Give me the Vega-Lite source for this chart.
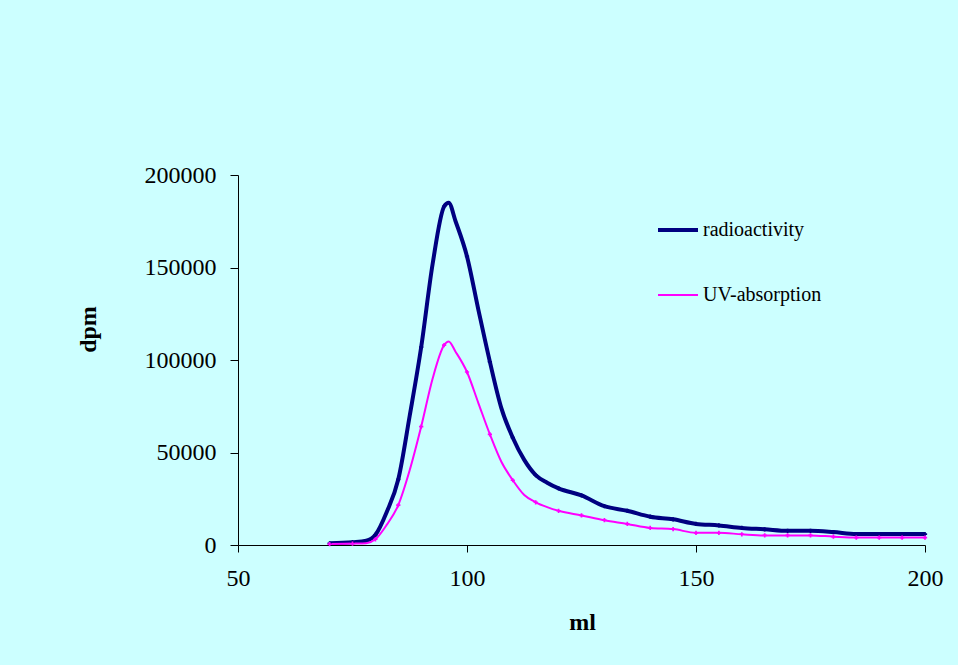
{
  "$schema": "https://vega.github.io/schema/vega-lite/v6.json",
  "width": 687,
  "height": 370,
  "autosize": {"type": "none"},
  "padding": {"left": 238, "top": 175, "right": 33, "bottom": 120},
  "background": "#CCFFFF",
  "config": {
    "view": {"stroke": null},
    "font": "Liberation Serif"
  },
  "data": {
    "values": [
      {"ml": 70, "dpm": 900, "series": "radioactivity", "m": 1},
      {"ml": 75, "dpm": 1500, "series": "radioactivity", "m": 1},
      {"ml": 78, "dpm": 2300, "series": "radioactivity", "m": 0},
      {"ml": 80, "dpm": 5500, "series": "radioactivity", "m": 1},
      {"ml": 82.5, "dpm": 18000, "series": "radioactivity", "m": 0},
      {"ml": 85, "dpm": 35500, "series": "radioactivity", "m": 1},
      {"ml": 87.5, "dpm": 70000, "series": "radioactivity", "m": 0},
      {"ml": 90, "dpm": 107000, "series": "radioactivity", "m": 1},
      {"ml": 92.5, "dpm": 152000, "series": "radioactivity", "m": 0},
      {"ml": 95, "dpm": 183000, "series": "radioactivity", "m": 1},
      {"ml": 96, "dpm": 185000, "series": "radioactivity", "m": 0},
      {"ml": 97.5, "dpm": 175000, "series": "radioactivity", "m": 0},
      {"ml": 100, "dpm": 156000, "series": "radioactivity", "m": 1},
      {"ml": 102.5, "dpm": 127000, "series": "radioactivity", "m": 0},
      {"ml": 105, "dpm": 99000, "series": "radioactivity", "m": 1},
      {"ml": 107.5, "dpm": 74000, "series": "radioactivity", "m": 0},
      {"ml": 110, "dpm": 58000, "series": "radioactivity", "m": 1},
      {"ml": 112.5, "dpm": 46000, "series": "radioactivity", "m": 0},
      {"ml": 115, "dpm": 37800, "series": "radioactivity", "m": 1},
      {"ml": 117.5, "dpm": 33700, "series": "radioactivity", "m": 0},
      {"ml": 120, "dpm": 30600, "series": "radioactivity", "m": 1},
      {"ml": 125, "dpm": 26800, "series": "radioactivity", "m": 1},
      {"ml": 130, "dpm": 21000, "series": "radioactivity", "m": 1},
      {"ml": 135, "dpm": 18500, "series": "radioactivity", "m": 1},
      {"ml": 140, "dpm": 15300, "series": "radioactivity", "m": 1},
      {"ml": 145, "dpm": 13900, "series": "radioactivity", "m": 1},
      {"ml": 150, "dpm": 11400, "series": "radioactivity", "m": 1},
      {"ml": 155, "dpm": 10600, "series": "radioactivity", "m": 1},
      {"ml": 160, "dpm": 9200, "series": "radioactivity", "m": 1},
      {"ml": 165, "dpm": 8500, "series": "radioactivity", "m": 1},
      {"ml": 170, "dpm": 7700, "series": "radioactivity", "m": 1},
      {"ml": 175, "dpm": 7700, "series": "radioactivity", "m": 1},
      {"ml": 180, "dpm": 7000, "series": "radioactivity", "m": 1},
      {"ml": 185, "dpm": 5900, "series": "radioactivity", "m": 1},
      {"ml": 190, "dpm": 5900, "series": "radioactivity", "m": 1},
      {"ml": 195, "dpm": 5900, "series": "radioactivity", "m": 1},
      {"ml": 200, "dpm": 5900, "series": "radioactivity", "m": 1},
      {"ml": 70, "dpm": 500, "series": "UV-absorption", "m": 1},
      {"ml": 75, "dpm": 800, "series": "UV-absorption", "m": 1},
      {"ml": 78, "dpm": 1000, "series": "UV-absorption", "m": 0},
      {"ml": 80, "dpm": 3100, "series": "UV-absorption", "m": 1},
      {"ml": 82.5, "dpm": 11000, "series": "UV-absorption", "m": 0},
      {"ml": 85, "dpm": 21600, "series": "UV-absorption", "m": 1},
      {"ml": 87.5, "dpm": 40500, "series": "UV-absorption", "m": 0},
      {"ml": 90, "dpm": 64000, "series": "UV-absorption", "m": 1},
      {"ml": 92.5, "dpm": 90000, "series": "UV-absorption", "m": 0},
      {"ml": 95, "dpm": 108000, "series": "UV-absorption", "m": 1},
      {"ml": 96, "dpm": 110000, "series": "UV-absorption", "m": 0},
      {"ml": 97.5, "dpm": 104500, "series": "UV-absorption", "m": 0},
      {"ml": 100, "dpm": 93500, "series": "UV-absorption", "m": 1},
      {"ml": 102.5, "dpm": 76600, "series": "UV-absorption", "m": 0},
      {"ml": 105, "dpm": 59800, "series": "UV-absorption", "m": 1},
      {"ml": 107.5, "dpm": 45000, "series": "UV-absorption", "m": 0},
      {"ml": 110, "dpm": 35000, "series": "UV-absorption", "m": 1},
      {"ml": 112.5, "dpm": 27000, "series": "UV-absorption", "m": 0},
      {"ml": 115, "dpm": 23100, "series": "UV-absorption", "m": 1},
      {"ml": 117.5, "dpm": 20500, "series": "UV-absorption", "m": 0},
      {"ml": 120, "dpm": 18500, "series": "UV-absorption", "m": 1},
      {"ml": 125, "dpm": 16000, "series": "UV-absorption", "m": 1},
      {"ml": 130, "dpm": 13400, "series": "UV-absorption", "m": 1},
      {"ml": 135, "dpm": 11400, "series": "UV-absorption", "m": 1},
      {"ml": 140, "dpm": 9200, "series": "UV-absorption", "m": 1},
      {"ml": 145, "dpm": 8600, "series": "UV-absorption", "m": 1},
      {"ml": 150, "dpm": 6600, "series": "UV-absorption", "m": 1},
      {"ml": 155, "dpm": 6600, "series": "UV-absorption", "m": 1},
      {"ml": 160, "dpm": 5800, "series": "UV-absorption", "m": 1},
      {"ml": 165, "dpm": 5200, "series": "UV-absorption", "m": 1},
      {"ml": 170, "dpm": 5200, "series": "UV-absorption", "m": 1},
      {"ml": 175, "dpm": 5200, "series": "UV-absorption", "m": 1},
      {"ml": 180, "dpm": 4500, "series": "UV-absorption", "m": 1},
      {"ml": 185, "dpm": 4000, "series": "UV-absorption", "m": 1},
      {"ml": 190, "dpm": 4000, "series": "UV-absorption", "m": 1},
      {"ml": 195, "dpm": 4000, "series": "UV-absorption", "m": 1},
      {"ml": 200, "dpm": 4000, "series": "UV-absorption", "m": 1}
    ]
  },
  "encoding": {
    "x": {
      "field": "ml",
      "type": "quantitative",
      "scale": {"domain": [50, 200], "nice": false, "zero": false},
      "axis": {
        "title": "ml",
        "values": [50, 100, 150, 200],
        "grid": false,
        "labelFlush": false,
        "domainColor": "#000000",
        "tickColor": "#000000",
        "tickSize": 7,
        "labelFont": "Liberation Serif",
        "labelFontSize": 24,
        "labelColor": "#000000",
        "labelPadding": 14,
        "titleFont": "Liberation Serif",
        "titleFontSize": 24,
        "titleFontWeight": "bold",
        "titleColor": "#000000",
        "titleX": 344,
        "titleY": 77,
        "titleBaseline": "middle",
        "titleAlign": "center"
      }
    },
    "y": {
      "field": "dpm",
      "type": "quantitative",
      "scale": {"domain": [0, 200000], "nice": false},
      "axis": {
        "title": "dpm",
        "values": [0, 50000, 100000, 150000, 200000],
        "format": "d",
        "grid": false,
        "labelFlush": false,
        "domainColor": "#000000",
        "tickColor": "#000000",
        "tickSize": 8,
        "labelFont": "Liberation Serif",
        "labelFontSize": 24,
        "labelColor": "#000000",
        "labelPadding": 14,
        "titleFont": "Liberation Serif",
        "titleFontSize": 24,
        "titleFontWeight": "bold",
        "titleColor": "#000000",
        "titleAngle": -90,
        "titleX": -150,
        "titleY": 154,
        "titleBaseline": "middle",
        "titleAlign": "center"
      }
    },
    "color": {
      "field": "series",
      "type": "nominal",
      "scale": {"domain": ["radioactivity", "UV-absorption"], "range": ["#000080", "#FF00FF"]},
      "legend": {
        "title": null,
        "orient": "none",
        "legendX": 418,
        "legendY": 33,
        "symbolType": "stroke",
        "symbolSize": 1600,
        "symbolStrokeWidth": 4,
        "labelFont": "Liberation Serif",
        "labelFontSize": 20,
        "labelColor": "#000000",
        "labelOffset": 3,
        "rowPadding": 34
      }
    }
  },
  "layer": [
    {
      "mark": {"type": "line", "interpolate": "monotone"},
      "encoding": {
        "strokeWidth": {
          "field": "series",
          "type": "nominal",
          "scale": {"domain": ["radioactivity", "UV-absorption"], "range": [4, 2]},
          "legend": null
        }
      }
    },
    {
      "transform": [{"filter": "datum.m == 1"}],
      "mark": {"type": "point", "shape": "cross", "filled": true, "size": 18, "opacity": 1},
      "encoding": {}
    }
  ]
}
